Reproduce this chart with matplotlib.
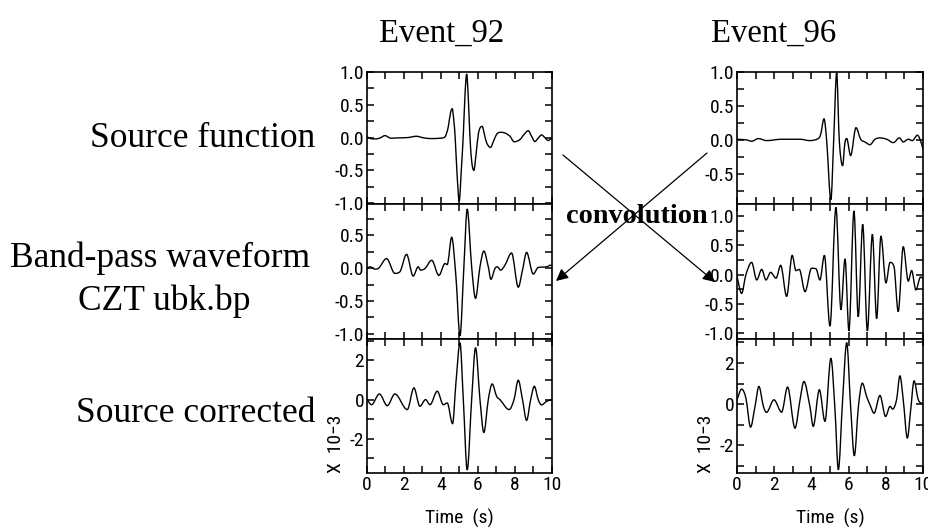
import matplotlib
matplotlib.use('Agg')
import matplotlib.pyplot as plt
from matplotlib.ticker import MultipleLocator, FormatStrFormatter
from matplotlib.path import Path
from matplotlib.patches import PathPatch, FancyArrowPatch

SERIF = ['Liberation Serif', 'DejaVu Serif']
plt.rcParams['font.family'] = ['Roboto Condensed', 'DejaVu Sans']
plt.rcParams['font.stretch'] = 'condensed'

# ---- Event_92 ----
# source function
t_src92 = [0.0, 0.3, 0.52, 0.75, 0.97, 1.3, 1.6, 2.2, 2.68, 3.0, 3.41, 3.95, 4.22, 4.32, 4.40,
           4.52, 4.61, 4.70, 4.77, 4.87, 4.99, 5.10, 5.21, 5.30, 5.39, 5.48, 5.57, 5.67, 5.78,
           5.90, 6.02, 6.12, 6.23, 6.35, 6.47, 6.68, 6.85, 7.01, 7.19, 7.46, 7.73, 7.96, 8.27,
           8.50, 8.72, 8.90, 9.08, 9.25, 9.44, 9.62, 9.80, 10.0]
v_src92 = [0.01, -0.02, -0.02, 0.0, 0.03, -0.01, -0.005, 0.0, 0.02, 0.0, -0.015, -0.01, 0.01, 0.08, 0.17,
           0.38, 0.44, 0.25, 0.0, -0.55, -0.965, -0.5, 0.05, 0.65, 0.97, 0.6, 0.0, -0.38, -0.5,
           -0.25, 0.05, 0.15, 0.17, 0.05, -0.08, -0.15, -0.05, 0.05, 0.08, 0.07, 0.02, -0.065, -0.03,
           0.05, 0.105, 0.02, -0.06, -0.01, 0.04, 0.0, -0.045, 0.0]
# band-pass waveform
t_bp92 = [0.0, 0.16, 0.43, 0.61, 1.06, 1.51, 1.78, 2.14, 2.50, 2.77, 2.90, 3.14, 3.50, 3.89, 4.22,
          4.34, 4.58, 4.81, 5.03, 5.24, 5.42, 5.66, 5.87, 6.11, 6.32, 6.56, 6.70, 6.92, 7.05, 7.23,
          7.46, 7.82, 8.18, 8.41, 8.63, 8.99, 9.26, 9.71, 9.93, 10.0]
v_bp92 = [-0.005, 0.02, -0.015, -0.005, 0.146, -0.08, -0.055, 0.21, -0.12, 0.02, -0.03, -0.005, 0.12,
          -0.11, 0.07, 0.055, 0.47, -0.13, -1.03, 0.02, 0.9, 0.02, -0.46, 0.02, 0.26, 0.02, -0.17,
          -0.005, 0.02, -0.03, 0.045, 0.23, -0.29, -0.03, 0.24, -0.09, 0.01, 0.02, 0.045, 0.03]
# source corrected (x 1e-3)
t_sc92 = [0.0, 0.25, 0.67, 1.10, 1.51, 2.18, 2.54, 2.86, 3.17, 3.41, 3.80, 4.13, 4.34, 4.63, 4.81,
          5.03, 5.21, 5.42, 5.66, 5.87, 6.11, 6.32, 6.56, 6.77, 7.01, 7.19, 7.69, 7.95, 8.18, 8.41,
          8.63, 8.85, 9.05, 9.26, 9.44, 9.71, 10.0]
v_sc92 = [0.0, -0.26, 0.29, -0.31, 0.29, -0.51, 0.6, -0.34, 0.0, -0.26, 0.43, -0.26, -0.17, -1.23, 0.85,
          2.9, 0.0, -3.59, 0.0, 2.65, 0.0, -1.68, 0.0, 0.8, 0.17, 0.0, -0.51, 0.0, 0.99, 0.0,
          -1.06, 0.0, 0.68, 0.0, -0.27, -0.09, 0.0]

# ---- Event_96 ----
t_src96 = [0.0, 0.52, 0.79, 1.15, 1.59, 2.40, 3.39, 3.92, 4.37, 4.50, 4.68, 4.82, 5.05, 5.20, 5.36,
           5.50, 5.68, 5.80, 5.90, 6.11, 6.40, 6.65, 6.88, 7.15, 7.42, 7.69, 8.05, 8.41, 8.73, 8.94,
           9.21, 9.43, 9.70, 9.84, 10.0]
v_src96 = [0.01, 0.0, -0.02, 0.02, -0.01, 0.01, 0.01, -0.01, 0.02, 0.08, 0.31, 0.0, -0.88, 0.0, 0.99,
           0.0, -0.38, -0.05, 0.02, -0.23, 0.18, 0.01, -0.03, -0.07, 0.01, 0.03, 0.01, -0.04, 0.03, -0.03,
           0.01, -0.01, 0.07, 0.01, -0.13]
t_bp96 = [0.0, 0.25, 0.48, 0.79, 1.06, 1.33, 1.56, 1.81, 2.10, 2.35, 2.67, 2.97, 3.17, 3.35, 3.66,
          4.01, 4.25, 4.46, 4.70, 5.0, 5.32, 5.59, 5.81, 6.02, 6.29, 6.52, 6.76, 7.01, 7.28, 7.51,
          7.74, 8.01, 8.23, 8.44, 8.67, 8.94, 9.21, 9.39, 9.62, 9.87, 10.0]
v_bp96 = [-0.03, -0.32, 0.0, 0.21, -0.09, 0.09, -0.09, 0.04, -0.06, 0.16, -0.37, 0.33, 0.07, 0.09, -0.29,
          0.11, 0.10, -0.09, 0.33, -0.88, 1.15, -0.60, 0.27, -0.96, 1.09, -0.72, 0.86, -0.96, 0.69, -0.75,
          0.66, -0.14, 0.21, 0.14, -0.63, 0.48, -0.11, 0.07, -0.26, -0.04, -0.07]
t_sc96 = [0.0, 0.25, 0.48, 0.73, 0.97, 1.18, 1.42, 1.59, 1.99, 2.40, 2.72, 3.12, 3.39, 3.60, 3.92,
          4.10, 4.43, 4.73, 5.05, 5.27, 5.45, 5.68, 5.90, 6.11, 6.31, 6.53, 6.74, 6.97, 7.15, 7.37,
          7.69, 7.99, 8.23, 8.37, 8.58, 8.76, 8.94, 9.16, 9.34, 9.52, 9.75, 10.0]
v_sc96 = [0.21, 0.73, 0.29, -1.12, -0.11, 0.86, -0.11, -0.40, 0.21, -0.39, 0.83, -1.17, 0.21, 1.10, -0.11,
          -1.08, 0.70, -0.84, 2.23, -0.28, -3.19, 0.21, 2.99, -0.11, -2.51, -0.11, 1.02, 0.37, -0.03, -0.44,
          0.42, -0.60, -0.11, -0.24, 0.21, 1.38, 0.21, -1.65, -0.28, 1.13, 0.21, 0.0]

events = ['Event_92', 'Event_96']
row_labels = ['Source function', 'Band-pass waveform', 'CZT ubk.bp', 'Source corrected']

traces = {
    'Event_92': [(t_src92, v_src92), (t_bp92, v_bp92), (t_sc92, v_sc92)],
    'Event_96': [(t_src96, v_src96), (t_bp96, v_bp96), (t_sc96, v_sc96)],
}
ylims = {
    'Event_92': [(-1.02, 1.0), (-1.08, 0.97), (-3.75, 3.1)],
    'Event_96': [(-0.95, 1.0), (-1.1, 1.2), (-3.35, 3.17)],
}


def smooth_path(t, v):
    # monotone cubic bezier through the read points (flat at local extrema)
    n = len(t)
    d = [(v[i + 1] - v[i]) / (t[i + 1] - t[i]) for i in range(n - 1)]
    m = [d[0]]
    for i in range(1, n - 1):
        if d[i - 1] * d[i] <= 0:
            m.append(0.0)
        else:
            s = (v[i + 1] - v[i - 1]) / (t[i + 1] - t[i - 1])
            lim = 3 * min(abs(d[i - 1]), abs(d[i]))
            m.append(max(-lim, min(lim, s)))
    m.append(d[-1])
    verts = [(t[0], v[0])]
    codes = [Path.MOVETO]
    for i in range(n - 1):
        h = (t[i + 1] - t[i]) / 3
        verts += [(t[i] + h, v[i] + m[i] * h),
                  (t[i + 1] - h, v[i + 1] - m[i + 1] * h),
                  (t[i + 1], v[i + 1])]
        codes += [Path.CURVE4] * 3
    return Path(verts, codes)


fig = plt.figure(figsize=(9.29, 5.27), dpi=100)

col_pos = {'Event_92': (0.3950, 0.1991), 'Event_96': (0.7933, 0.2002)}
row_pos = [(0.6120, 0.2514), (0.3567, 0.2553), (0.1025, 0.2543)]

for ev in events:
    left, width = col_pos[ev]
    for i, (bottom, height) in enumerate(row_pos):
        ax = fig.add_axes([left, bottom, width, height])
        t, v = traces[ev][i]
        ax.add_patch(PathPatch(smooth_path(t, v), facecolor='none',
                               edgecolor='black', linewidth=1.0))
        ax.set_xlim(0, 10)
        ax.set_ylim(*ylims[ev][i])
        for s in ax.spines.values():
            s.set_linewidth(1.2)

        ax.xaxis.set_major_locator(MultipleLocator(2))
        ax.xaxis.set_minor_locator(MultipleLocator(1))
        if i < 2:
            ax.yaxis.set_major_locator(MultipleLocator(0.5))
            ax.yaxis.set_minor_locator(MultipleLocator(0.25))
            ax.yaxis.set_major_formatter(FormatStrFormatter('%.1f'))
        else:
            ax.yaxis.set_major_locator(MultipleLocator(2))
            ax.yaxis.set_minor_locator(MultipleLocator(1))
            ax.yaxis.set_major_formatter(FormatStrFormatter('%d'))
        ax.tick_params(which='both', direction='in', top=True, right=True,
                       length=5, width=1.1, pad=2, labelsize=14)
        if i < 2:
            ax.tick_params(axis='x', labelbottom=False)

        if i == 2:
            ax.set_xlabel('Time  (s)', fontsize=14, labelpad=11)
            ax.text(-0.165, 0.0, 'X  10\u22123', transform=ax.transAxes, rotation=90,
                    fontsize=14, ha='center', va='bottom')

# titles
fig.text(442 / 929, 1 - 42 / 527, 'Event_92', family=SERIF, stretch='normal',
         fontsize=23.5, ha='center', va='baseline')
fig.text(774 / 929, 1 - 42 / 527, 'Event_96', family=SERIF, stretch='normal',
         fontsize=23.5, ha='center', va='baseline')

# row labels
fig.text(315 / 929, 1 - 147 / 527, row_labels[0], family=SERIF, stretch='normal',
         fontsize=25.5, ha='right', va='baseline')
fig.text(160 / 929, 1 - 267 / 527, row_labels[1], family=SERIF, stretch='normal',
         fontsize=25.5, ha='center', va='baseline')
fig.text(164 / 929, 1 - 310 / 527, row_labels[2], family=SERIF, stretch='normal',
         fontsize=25.5, ha='center', va='baseline')
fig.text(315 / 929, 1 - 422 / 527, row_labels[3], family=SERIF, stretch='normal',
         fontsize=25.5, ha='right', va='baseline')

# convolution cross
fig.text(637 / 929, 1 - 223 / 527, 'convolution', family=SERIF, stretch='normal',
         fontsize=20.3, fontweight='bold', ha='center', va='baseline')
arrow = dict(arrowstyle='-|>', color='black', lw=0.9, mutation_scale=18,
             shrinkA=0, shrinkB=0)
fig.add_artist(FancyArrowPatch((563 / 929, 1 - 155 / 527), (715 / 929, 1 - 282 / 527),
                               transform=fig.transFigure, **arrow))
fig.add_artist(FancyArrowPatch((707 / 929, 1 - 153 / 527), (556 / 929, 1 - 281 / 527),
                               transform=fig.transFigure, **arrow))

fig.savefig('out.png', dpi=100)
